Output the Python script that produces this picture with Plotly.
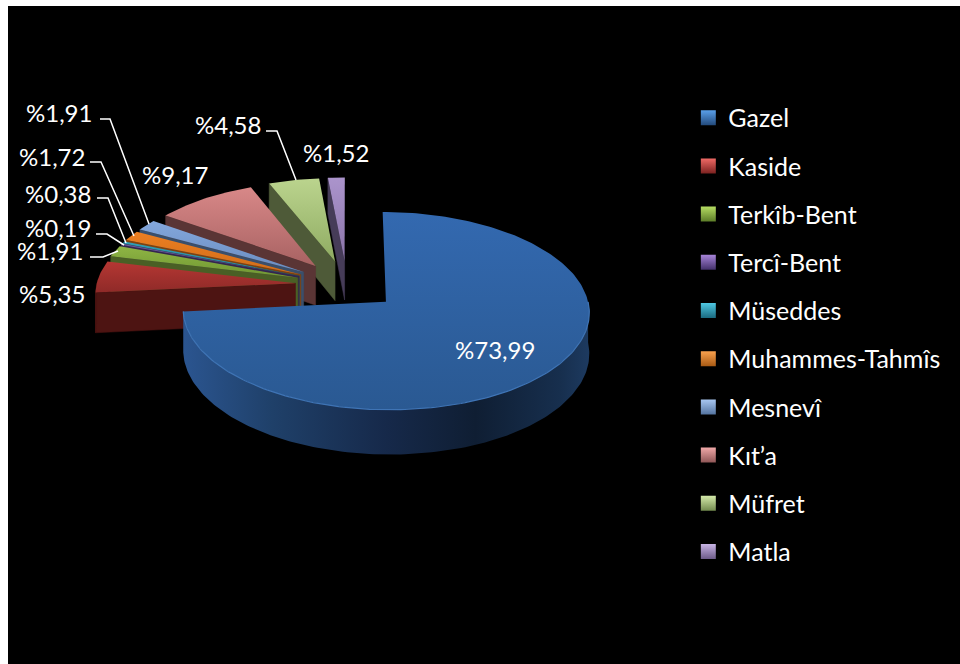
import math
import plotly.graph_objects as go

categories = ["Gazel", "Kaside", "Terkîb-Bent", "Tercî-Bent", "Müseddes",
              "Muhammes-Tahmîs", "Mesnevî", "Kıt’a", "Müfret", "Matla"]
values = [73.99, 5.35, 1.91, 0.19, 0.38, 1.72, 1.91, 9.17, 4.58, 1.52]
value_labels = ["%73,99", "%5,35", "%1,91", "%0,19", "%0,38", "%1,72", "%1,91", "%9,17", "%4,58", "%1,52"]

top_light = ["#3369b0", "#b53733", "#8fb544", "#7453a0", "#2f9fba", "#ec7f22", "#83a7dc", "#d88888", "#bbd48e", "#ab94cc"]
top_dark = ["#2a5992", "#8f2a28", "#6f9632", "#5a3c80", "#23809a", "#d06c18", "#6a8dc0", "#a86262", "#8fab62", "#8a74a8"]
wall = ["#1d3d66", "#4d1412", "#4a5f25", "#35264f", "#165060", "#80420e", "#3a4f6b", "#5a3535", "#4e5a38", "#463c58"]
legend_light = ["#5aa0ea", "#f06a66", "#b5dc62", "#a784d8", "#4fc8e2", "#fba24e", "#a9c8f2", "#f0a8a8", "#d4eaaa", "#c8b4e4"]
legend_dark = ["#234a7c", "#7c2220", "#5c7c28", "#43306a", "#1a6a80", "#a85a14", "#5474a0", "#8f5656", "#728a4e", "#6c5a88"]

CX, CY = 347, 285
RX, RY = 199, 95
PERSP = 0.09
EXPLODE = 0.26
DEPTH = 40


def project(u, v, z=0.0):
    w = 1 / (1 + PERSP * v)
    return CX + RX * u * w, CY - RY * v * w + z * w


def ground(theta, r, mid):
    return (EXPLODE * math.sin(mid) + r * math.sin(theta),
            EXPLODE * math.cos(mid) + r * math.cos(theta))


def arc(a, b, mid, z=0.0):
    n = max(2, int(abs(b - a) / 0.02))
    pts = []
    for i in range(n + 1):
        t = a + (b - a) * i / n
        pts.append(project(*ground(t, 1, mid), z))
    return pts


def poly(fig, pts, color=None, gradient=None, line=None):
    xs = [p[0] for p in pts] + [pts[0][0]]
    ys = [p[1] for p in pts] + [pts[0][1]]
    kw = dict(x=xs, y=ys, mode="lines", fill="toself", hoverinfo="skip", showlegend=False,
              line=dict(width=0.5, color=line or color or "rgba(0,0,0,0)"))
    if gradient:
        kw["fillgradient"] = gradient
        kw["line"] = dict(width=0)
    else:
        kw["fillcolor"] = color
    fig.add_trace(go.Scatter(**kw))


total = sum(values)
slices = []
start = 0.0
for i, val in enumerate(values):
    a = start
    b = start + val / total * 2 * math.pi
    slices.append((i, a, b, (a + b) / 2))
    start = b

fig = go.Figure()
for i, a, b, mid in sorted(slices, key=lambda s: -math.cos(s[3])):
    apex_top = project(*ground(0, 0, mid))
    apex_bot = project(*ground(0, 0, mid), DEPTH)
    # radial walls that face the viewer
    for th, sign in ((a, 1), (b, -1)):
        if sign * math.sin(th) < -1e-6:
            poly(fig, [apex_top, project(*ground(th, 1, mid)),
                       project(*ground(th, 1, mid), DEPTH), apex_bot], color=wall[i])
    # outer rim, front half only
    ra, rb = max(a, math.pi / 2), min(b, 3 * math.pi / 2)
    if rb > ra:
        pts = arc(ra, rb, mid) + arc(rb, ra, mid, DEPTH)
        if i == 0:
            grad = dict(type="horizontal", colorscale=[
                [0, "#2b5590"], [0.22, "#1f4069"], [0.5, "#16294a"], [0.72, "#0f1e33"],
                [0.93, "#172f4e"], [1, "#1d3a60"]])
            poly(fig, pts, gradient=grad)
        else:
            poly(fig, pts, color=wall[i])
    # top surface
    top = [apex_top] + arc(a, b, mid)
    poly(fig, top, gradient=dict(type="vertical",
                                 colorscale=[[0, top_dark[i]], [1, top_light[i]]]))

# lit edge on the big slice
_, a0, b0, mid0 = slices[0]
edge = arc(max(a0, math.pi / 2), b0, mid0)
fig.add_trace(go.Scatter(x=[p[0] for p in edge], y=[p[1] for p in edge], mode="lines",
                         line=dict(color="#3f74b5", width=1.2), hoverinfo="skip", showlegend=False))

# legend entries
for name, c1, c2 in zip(categories, legend_light, legend_dark):
    fig.add_trace(go.Scatter(x=[None], y=[None], mode="markers", name=name, legendgroup=name,
                             marker=dict(symbol="square", size=15, color=c1,
                                         gradient=dict(type="vertical", color=c2),
                                         line=dict(width=0))))

# leader lines
leaders = [
    [(100, 119), (110, 119), (149, 224)],
    [(90, 162), (101, 162), (134, 236)],
    [(97, 198), (108, 198), (126, 243)],
    [(96, 234), (107, 234), (124, 245)],
    [(90, 257), (103, 257), (118, 251)],
    [(266, 131), (277, 131), (296, 180)],
]
for path in leaders:
    fig.add_trace(go.Scatter(x=[p[0] for p in path], y=[p[1] for p in path], mode="lines",
                             line=dict(color="white", width=1.5), hoverinfo="skip", showlegend=False))

label_pos = [(495, 349), (52, 293), (50, 250), (58, 227), (58, 193), (52, 156), (59, 112), (175, 174), (228, 124), (336, 152)]
annotations = [dict(x=x, y=y, text=t, showarrow=False, xanchor="center", yanchor="middle",
                    font=dict(family="Lato", size=24, color="white"))
               for (x, y), t in zip(label_pos, value_labels)]

fig.update_layout(
    width=960, height=664, margin=dict(l=0, r=0, t=0, b=0),
    paper_bgcolor="white", plot_bgcolor="white",
    xaxis=dict(range=[0, 960], visible=False, fixedrange=True),
    yaxis=dict(range=[664, 0], visible=False, fixedrange=True),
    shapes=[dict(type="rect", xref="x", yref="y", x0=8, y0=6, x1=960, y1=664,
                 fillcolor="black", line=dict(width=0), layer="below")],
    annotations=annotations,
    legend=dict(x=0.717, y=0.857, xanchor="left", yanchor="top", bgcolor="rgba(0,0,0,0)",
                font=dict(family="Lato", size=25, color="white"), tracegroupgap=12.7,
                itemclick=False, itemdoubleclick=False),
    showlegend=True,
)
fig.write_html("out.html", config=dict(displayModeBar=False),
               post_script="document.body.style.margin='0';document.body.style.overflow='hidden';")
